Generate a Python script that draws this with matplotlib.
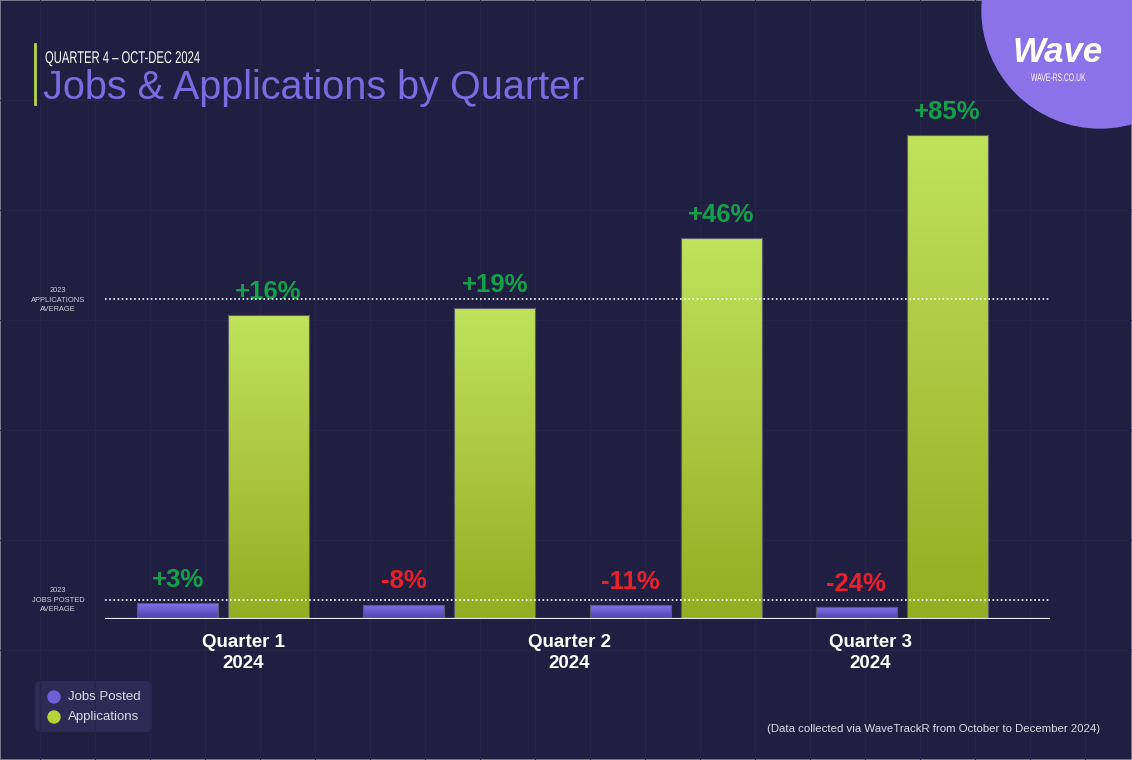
import numpy as np
import matplotlib
matplotlib.use("Agg")
import matplotlib.pyplot as plt
from matplotlib.patches import Circle, FancyBboxPatch, Rectangle, PathPatch
from matplotlib.colors import LinearSegmentedColormap
from matplotlib.textpath import TextPath
from matplotlib.font_manager import FontProperties
from matplotlib.transforms import Affine2D

plt.rcParams["font.family"] = ["Liberation Sans", "DejaVu Sans"]

# ---- data (visual heights, chart is not to scale) ----
groups = ["Q1", "Q2", "Q3", "Q4"]
jobs = [16, 14.5, 14, 12]
apps = [304, 311, 381, 484]
jobs_pct = ["+3%", "-8%", "-11%", "-24%"]
apps_pct = ["+16%", "+19%", "+46%", "+85%"]
jobs_avg = 19
apps_avg = 320
xlabels = ["Quarter 1\n2024", "Quarter 2\n2024", "Quarter 3\n2024"]
xlabel_pos = [0.09, 1.53, 2.86]

BG = "#201f41"
PURPLE = "#7b6be0"
GREEN_POS = "#13a048"
RED_NEG = "#e8202a"

W, H = 1132, 760
fig = plt.figure(figsize=(W / 100, H / 100), dpi=100, facecolor=BG)


def fx(x):
    return x / W


def fy(y):
    return 1 - y / H


def narrow_text(s, px, py, size, sx=0.72, color="white", **kw):
    # condensed text: draw glyph outlines squeezed horizontally (pixel coords)
    tp = TextPath((0, 0), s, size=size, prop=FontProperties(family="Liberation Sans", **kw))
    tr = Affine2D().scale(sx, 1).translate(px, H - py)
    fig.add_artist(PathPatch(tp, transform=tr, facecolor=color, edgecolor="none", zorder=5))


# faint background grid
bg = fig.add_axes([0, 0, 1, 1], zorder=0)
bg.set_xlim(0, W); bg.set_ylim(H, 0); bg.axis("off")
bg.set_facecolor(BG)
for gx in np.arange(40, W, 55):
    bg.axvline(gx, color="#262549", lw=0.8)
for gy in np.arange(100, H, 110):
    bg.axhline(gy, color="#262549", lw=0.8)
bg.add_patch(Rectangle((0, 0), W, H, fill=False, edgecolor="#8a8a9a", lw=1.2))

# logo
bg.add_patch(Circle((1100, 10), 118, color="#8a73e8", zorder=2))
bg.text(1058, 52, "Wave", color="white", fontsize=25, fontweight="bold",
        fontstyle="italic", ha="center", va="center", zorder=3)
narrow_text("WAVE-RS.CO.UK", 1031, 81, 11, sx=0.62)

# header
bg.plot([35, 35], [44, 104], color="#b6d84a", lw=2)
narrow_text("QUARTER 4 \u2013 OCT-DEC 2024", 45, 63, 17, sx=0.66)
bg.text(43, 88, "Jobs & Applications by Quarter", color=PURPLE, fontsize=28.5,
        ha="left", va="center")

# reference labels
bg.text(58, 300, "2023\nAPPLICATIONS\nAVERAGE", color="#d0d0d8", fontsize=5.4,
        ha="center", va="center", linespacing=1.5)
bg.text(58, 600, "2023\nJOBS POSTED\nAVERAGE", color="#d0d0d8", fontsize=5.4,
        ha="center", va="center", linespacing=1.5)

# legend
bg.add_patch(FancyBboxPatch((35, 681), 117, 51,
                            boxstyle="round,pad=0,rounding_size=6",
                            facecolor="#2c2b55", edgecolor="none"))
bg.add_patch(Circle((54, 697), 6, color="#6e5fd6"))
bg.add_patch(Circle((54, 717), 6, color="#b4d43a"))
bg.text(68, 697, "Jobs Posted", color="#dcdce4", fontsize=9.5, va="center")
bg.text(68, 717, "Applications", color="#dcdce4", fontsize=9.5, va="center")

bg.text(1100, 729, "(Data collected via WaveTrackR from October to December 2024)",
        color="#dcdce4", fontsize=8.2, ha="right", va="center")

# ---- main chart ----
x0_px, x1_px, base_px, top_px = 105, 1050, 619, 100
ax = fig.add_axes([fx(x0_px), fy(base_px), fx(x1_px - x0_px),
                   (base_px - top_px) / H], zorder=1)
ax.patch.set_alpha(0)
step = 226.3
for sp in ax.spines.values():
    sp.set_visible(False)
ax.tick_params(length=0)
ax.set_yticks([])

x = np.arange(len(groups))
bw, off = 0.358, 0.201

cm_apps = LinearSegmentedColormap.from_list("a", ["#94ad22", "#c0e25c"])
cm_jobs = LinearSegmentedColormap.from_list("j", ["#4c3ca8", "#8574ea"])
grad = np.linspace(0, 1, 256).reshape(-1, 1)

for xs, vals, cm in [(x - off, jobs, cm_jobs), (x + off, apps, cm_apps)]:
    bars = ax.bar(xs, vals, width=bw, color="none", edgecolor="#5a5a6a",
                  lw=0.8, zorder=3)
    for b in bars:
        bx, by = b.get_x(), b.get_y()
        im = ax.imshow(grad, cmap=cm, origin="lower", aspect="auto",
                       extent=(bx, bx + b.get_width(), by, by + b.get_height()),
                       zorder=2)
        im.set_clip_path(b)

for xs, vals, labels in [(x - off, jobs, jobs_pct), (x + off, apps, apps_pct)]:
    for xi, v, t in zip(xs, vals, labels):
        ax.annotate(t, (xi, v), xytext=(0, 8), textcoords="offset points",
                    ha="center", va="bottom", fontsize=18.5, fontweight="bold",
                    color=GREEN_POS if t.startswith("+") else RED_NEG)

ax.axhline(apps_avg, color="white", lw=1.2, ls=(0, (1, 1.5)), zorder=4)
ax.axhline(jobs_avg, color="white", lw=1.2, ls=(0, (1, 1.5)), zorder=4)
ax.axhline(0, color="#e6e6ee", lw=1.6, zorder=5)

ax.set_xticks(xlabel_pos)
ax.set_xticklabels(xlabels, color="white", fontsize=13.5, fontweight="bold",
                   linespacing=1.3)
ax.tick_params(axis="x", pad=11)

ax.set_xlim((x0_px - 223) / step, (x1_px - 223) / step)
ax.set_ylim(0, base_px - top_px)

fig.savefig("out.png", dpi=100, facecolor=BG)
